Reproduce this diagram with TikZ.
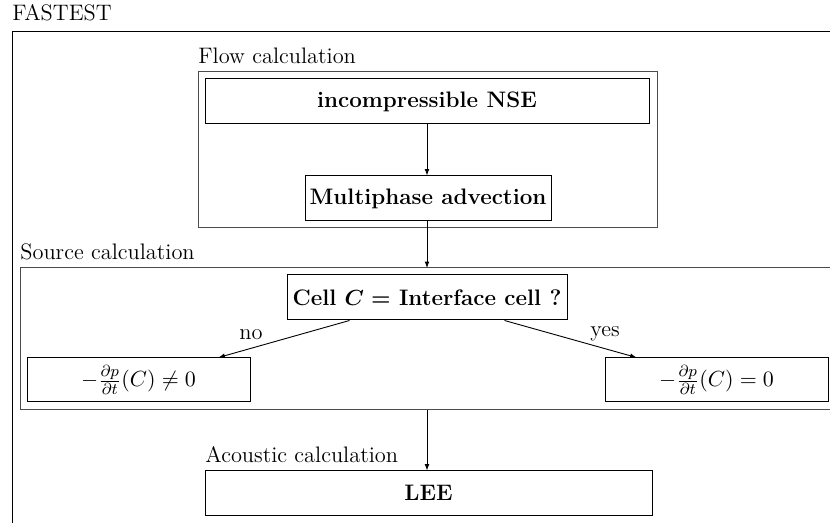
\documentclass[tikz,border=0pt]{standalone}
\usetikzlibrary{arrows.meta,calc}
\begin{document}
\begin{tikzpicture}[x=0.5pt,y=-0.5pt,
  every node/.style={font=\fontsize{11.2}{13.4}\selectfont},
  procbox/.style={draw, line width=0.5pt, rectangle, inner sep=0pt, align=center},
  groupbox/.style={draw=black!70, line width=0.5pt},
  caption/.style={anchor=base west, inner sep=0pt},
  flowarrow/.style={draw, line width=0.45pt, -{Latex[length=3.2pt,width=2.4pt]}},
  choice/.style={anchor=base, inner sep=0pt}]
  \useasboundingbox (0,0) rectangle (830,523);

  % outer FASTEST frame (runs past the page edge)
  \node[caption] (fastest) at (12,21) {FASTEST};
  \draw[line width=0.5pt] (12,540) -- (12,32) -- (850,32);

  % flow calculation group
  \node[caption] (flowlbl) at (198,64) {Flow calculation};
  \draw[groupbox] (198,72) rectangle (657,228);
  \node[procbox, minimum width=222pt, minimum height=22.5pt] (nse) at (427,101.5) {\textbf{incompressible NSE}};
  \node[procbox, minimum width=123pt, minimum height=22.5pt] (mpa) at (428,198.5) {\textbf{Multiphase advection}};

  % source calculation group (open towards the right edge)
  \node[caption] (srclbl) at (20,260) {Source calculation};
  \draw[groupbox] (850,268) -- (20,268) -- (20,410) -- (850,410);
  \coordinate (srctop) at (427,268);
  \coordinate (srcbot) at (427,410);
  \node[procbox, minimum width=140pt, minimum height=22.5pt] (cell) at (427,297.5) {\textbf{Cell {\boldmath$C =$} Interface cell ?}};
  \node[procbox, minimum width=111.5pt, minimum height=22pt] (nonzero) at (138.5,380) {$-\frac{\partial p}{\partial t}(C) \neq 0$};
  \node[procbox, minimum width=111.5pt, minimum height=22pt] (zero) at (716.5,380) {$-\frac{\partial p}{\partial t}(C) = 0$};

  % acoustic calculation
  \node[caption] (acolbl) at (205,463) {Acoustic calculation};
  \node[procbox, minimum width=223.5pt, minimum height=22pt] (lee) at (428.5,493) {\textbf{LEE}};

  % connectors
  \draw[flowarrow] (nse.south) -- (nse.south |- mpa.north);
  \draw[flowarrow] (mpa.south -| srctop) -- (srctop);
  \draw[flowarrow] ($(cell.south west)+(63,0)$) -- ($(nonzero.north east)+(-32,0)$);
  \draw[flowarrow] ($(cell.south west)+(218,0)$) -- ($(zero.north west)+(32,0)$);
  \draw[flowarrow] (srcbot) -- (srcbot |- lee.north);
  \node[choice] (nolbl) at (251,340) {no};
  \node[choice] (yeslbl) at (605,337) {yes};
\end{tikzpicture}
\end{document}
